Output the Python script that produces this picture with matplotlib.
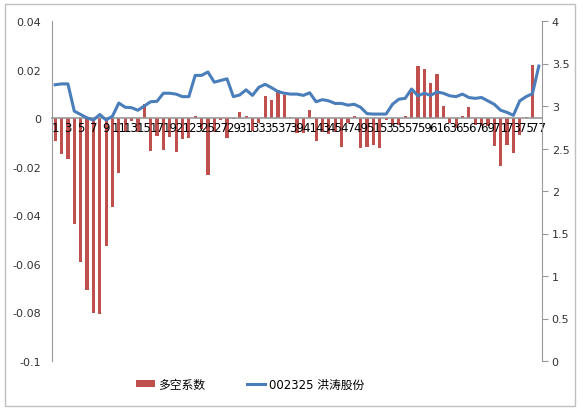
import matplotlib
matplotlib.use("Agg")
import matplotlib.pyplot as plt
from matplotlib.patches import Rectangle
from matplotlib.lines import Line2D
from matplotlib.patches import Patch
import numpy as np

plt.rcParams['font.family'] = ['DejaVu Sans', 'Noto Sans CJK SC']

categories = list(range(1, 78))
coef = [-0.0096, -0.0149, -0.0170, -0.0436, -0.0593, -0.0706, -0.0801, -0.0806, -0.0528, -0.0365,
        -0.0224, -0.0059, -0.0010, -0.0057, 0.0060, -0.0134, -0.0075, -0.0130, -0.0079, -0.0141,
        -0.0085, -0.0082, 0.0008, -0.0044, -0.0235, -0.0057, -0.0007, -0.0080, -0.0005, 0.0025,
        0.0007, -0.0052, -0.0022, 0.0093, 0.0075, 0.0116, 0.0097, 0.0006, -0.0060, -0.0060,
        0.0033, -0.0093, -0.0057, -0.0066, -0.0055, -0.0120, -0.0020, 0.0008, -0.0123, -0.0120,
        -0.0110, -0.0123, -0.0008, -0.0027, -0.0027, 0.0008, 0.0107, 0.0215, 0.0203, 0.0146,
        0.0183, 0.0052, -0.0019, -0.0041, 0.0008, 0.0044, -0.0027, -0.0034, -0.0034, -0.0113,
        -0.0198, -0.0112, -0.0144, -0.0068, 0.0006, 0.0220, 0.0]
price = [3.25, 3.26, 3.26, 2.94, 2.90, 2.86, 2.835, 2.90, 2.835, 2.88,
         3.035, 2.985, 2.98, 2.95, 3.00, 3.05, 3.055, 3.15, 3.15, 3.14,
         3.11, 3.11, 3.36, 3.36, 3.40, 3.28, 3.30, 3.32, 3.11, 3.13,
         3.19, 3.125, 3.22, 3.255, 3.215, 3.17, 3.15, 3.14, 3.14, 3.125,
         3.155, 3.05, 3.075, 3.06, 3.03, 3.03, 3.01, 3.02, 2.985, 2.91,
         2.905, 2.905, 2.905, 3.02, 3.08, 3.09, 3.20, 3.12, 3.15, 3.125,
         3.165, 3.15, 3.12, 3.11, 3.14, 3.10, 3.09, 3.10, 3.06, 3.02,
         2.95, 2.925, 2.89, 3.06, 3.11, 3.145, 3.47]
left_ticks = [0.04, 0.02, 0, -0.02, -0.04, -0.06, -0.08, -0.1]
left_labels = ['0.04', '0.02', '0', '-0.02', '-0.04', '-0.06', '-0.08', '-0.1']
right_ticks = [0, 0.5, 1, 1.5, 2, 2.5, 3, 3.5, 4]
right_labels = ['0', '0.5', '1', '1.5', '2', '2.5', '3', '3.5', '4']
bar_name = '多空系数'
line_name = '002325 洪涛股份'

W, H = 583, 414
fig = plt.figure(figsize=(W / 100, H / 100), dpi=100)
fig.patch.set_facecolor('white')
fig.add_artist(Rectangle((5 / W, 1 - 407 / H), 570 / W, 402 / H, transform=fig.transFigure,
                         fill=False, edgecolor='#bfbfbf', linewidth=1))

ax = fig.add_axes([52 / W, 1 - 362 / H, 490 / W, 340 / H])
x = np.arange(len(categories))
ax.bar(x, coef, width=0.5, color='#C0504D', zorder=1)
ax.set_xlim(-0.5, len(categories) - 0.5)
ax.set_ylim(-0.1, 0.04)
ax.set_yticks(left_ticks)
ax.set_yticklabels(left_labels)
ax.tick_params(axis='y', length=0, labelsize=8, pad=8, colors='#333333')
ax.set_xticks(x[::2])
ax.set_xticklabels([str(c) for c in categories[::2]])
ax.tick_params(axis='x', length=0, labelsize=8.5, pad=2, colors='black')
ax.xaxis.set_zorder(3)
for s in ['top', 'right']:
    ax.spines[s].set_visible(False)
ax.spines['bottom'].set_position(('data', 0))
ax.spines['bottom'].set_color('#999999')
ax.spines['bottom'].set_linewidth(1.2)
ax.spines['bottom'].set_zorder(2)
ax.spines['left'].set_color('#999999')

ax2 = ax.twinx()
ax2.plot(x, price, color='#4A7EBB', linewidth=2.2, zorder=3)
ax2.set_ylim(0, 4)
ax2.set_yticks(right_ticks)
ax2.set_yticklabels(right_labels)
ax2.tick_params(axis='y', length=4, direction='out', labelsize=8, pad=3, color='#999999', colors='#333333')
ax2.tick_params(axis='y', color='#999999')
for s in ['top', 'left', 'bottom']:
    ax2.spines[s].set_visible(False)
ax2.spines['right'].set_color('#999999')

handles = [Patch(facecolor='#C0504D', edgecolor='none'),
           Line2D([0], [0], color='#4A7EBB', linewidth=2.2)]
fig.legend(handles, [bar_name, line_name], loc='center', bbox_to_anchor=(250 / W, 1 - 385 / H),
           ncol=2, frameon=False, fontsize=8.5, handlelength=1.6, handleheight=0.6,
           columnspacing=3.5, handletextpad=0.3,
           prop={'family': ['DejaVu Sans', 'Noto Sans CJK SC'], 'size': 8.5})

fig.savefig('out.png', dpi=100)
